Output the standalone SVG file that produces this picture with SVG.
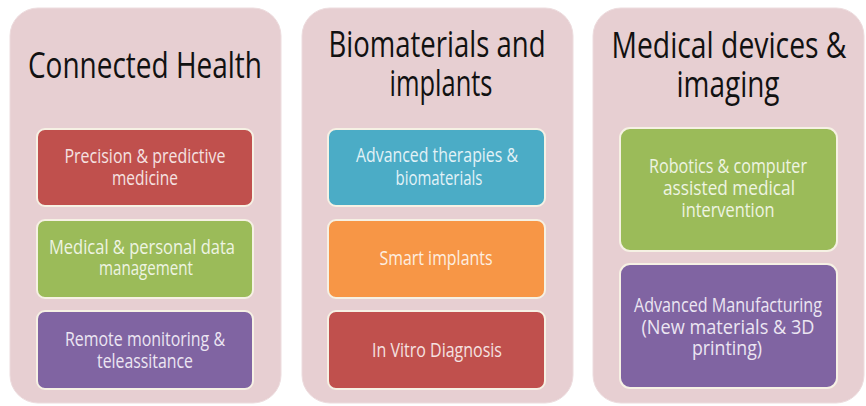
<svg xmlns="http://www.w3.org/2000/svg" width="866" height="406" viewBox="0 0 866 406">
<style>
.panel{fill:#E7CFD2;stroke:#EDDCDE;stroke-width:1}
.title{font-family:"Open Sans","Liberation Sans",sans-serif;font-size:36px;fill:#111;text-anchor:middle}
.box{stroke:#F6F1E4;stroke-width:2}
.bt{font-family:"Open Sans","Liberation Sans",sans-serif;font-size:20.5px;text-anchor:middle}
.red{fill:#C0504D}.green{fill:#9BBB59}.purple{fill:#8064A2}.blue{fill:#4BACC6}.orange{fill:#F79646}
.tred{fill:#F5E2E1}.tgreen{fill:#EEF4E2}.tpurple{fill:#ECE6F2}.tblue{fill:#E2F2F7}.torange{fill:#FDEEE0}
</style>
<rect width="866" height="406" fill="#FFFFFF"/>
<g id="panel-connected-health">
<rect class="panel" x="10" y="8" width="271" height="395" rx="28"/>
<text class="title" x="145" y="78" textLength="234" lengthAdjust="spacingAndGlyphs">Connected Health</text>
</g>
<g id="panel-biomaterials">
<rect class="panel" x="302" y="8" width="271" height="395" rx="28"/>
<text class="title" x="437" y="57" textLength="217" lengthAdjust="spacingAndGlyphs">Biomaterials and</text>
<text class="title" x="441" y="96" textLength="103" lengthAdjust="spacingAndGlyphs">implants</text>
</g>
<g id="panel-medical-devices">
<rect class="panel" x="593" y="8" width="271" height="395" rx="28"/>
<text class="title" x="729" y="58" textLength="235" lengthAdjust="spacingAndGlyphs">Medical devices &amp;</text>
<text class="title" x="728" y="97" textLength="103" lengthAdjust="spacingAndGlyphs">imaging</text>
</g>
<g id="node-precision">
<rect class="box red" x="37" y="129" width="216" height="77" rx="8"/>
<text class="bt tred" x="145" y="163" textLength="161" lengthAdjust="spacingAndGlyphs">Precision &amp; predictive</text>
<text class="bt tred" x="145" y="185" textLength="66" lengthAdjust="spacingAndGlyphs">medicine</text>
</g>
<g id="node-data">
<rect class="box green" x="37" y="220" width="216" height="78" rx="8"/>
<text class="bt tgreen" x="142" y="254" textLength="186" lengthAdjust="spacingAndGlyphs">Medical &amp; personal data</text>
<text class="bt tgreen" x="146" y="275" textLength="94" lengthAdjust="spacingAndGlyphs">management</text>
</g>
<g id="node-remote">
<rect class="box purple" x="37" y="311" width="216" height="78" rx="8"/>
<text class="bt tpurple" x="145" y="346" textLength="160" lengthAdjust="spacingAndGlyphs">Remote monitoring &amp;</text>
<text class="bt tpurple" x="145" y="368" textLength="96" lengthAdjust="spacingAndGlyphs">teleassitance</text>
</g>
<g id="node-therapies">
<rect class="box blue" x="328" y="129" width="217" height="77" rx="8"/>
<text class="bt tblue" x="437" y="162" textLength="162" lengthAdjust="spacingAndGlyphs">Advanced therapies &amp;</text>
<text class="bt tblue" x="439" y="185" textLength="87" lengthAdjust="spacingAndGlyphs">biomaterials</text>
</g>
<g id="node-smart-implants">
<rect class="box orange" x="328" y="220" width="217" height="78" rx="8"/>
<text class="bt torange" x="436" y="265" textLength="113" lengthAdjust="spacingAndGlyphs">Smart implants</text>
</g>
<g id="node-ivd">
<rect class="box red" x="328" y="311" width="217" height="78" rx="8"/>
<text class="bt tred" x="437" y="357" textLength="130" lengthAdjust="spacingAndGlyphs">In Vitro Diagnosis</text>
</g>
<g id="node-robotics">
<rect class="box green" x="620" y="128" width="217" height="123" rx="10"/>
<text class="bt tgreen" x="728" y="173" textLength="158" lengthAdjust="spacingAndGlyphs">Robotics &amp; computer</text>
<text class="bt tgreen" x="729" y="195" textLength="132" lengthAdjust="spacingAndGlyphs">assisted medical</text>
<text class="bt tgreen" x="728" y="217" textLength="93" lengthAdjust="spacingAndGlyphs">intervention</text>
</g>
<g id="node-manufacturing">
<rect class="box purple" x="620" y="264" width="217" height="124" rx="10"/>
<text class="bt tpurple" x="728" y="312" textLength="188" lengthAdjust="spacingAndGlyphs">Advanced Manufacturing</text>
<text class="bt tpurple" x="728" y="334" textLength="173" lengthAdjust="spacingAndGlyphs">(New materials &amp; 3D</text>
<text class="bt tpurple" x="727" y="355" textLength="70" lengthAdjust="spacingAndGlyphs">printing)</text>
</g>
<g id="connectors"/>
</svg>
